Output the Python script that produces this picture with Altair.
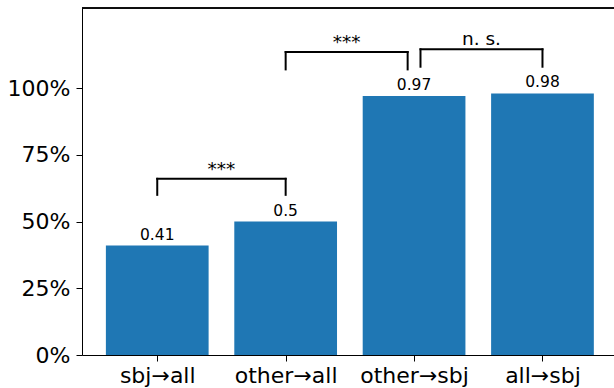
import json
import altair as alt
import pandas as pd

# ---- data ----
categories = ["sbj→all", "other→all", "other→sbj", "all→sbj"]
values = [0.41, 0.50, 0.97, 0.98]
value_labels = ["0.41", "0.5", "0.97", "0.98"]

bracket_left = [0, 1, 2.05]
bracket_right = [1, 1.95, 3]
bracket_top = [0.66, 1.135, 1.145]
bracket_bottom = [0.60, 1.07, 1.08]
bracket_labels = ["***", "***", "n. s."]

y_ticks = [0, 0.25, 0.5, 0.75, 1.0]

# ---- layout / style ----
W, H = 532, 347
BAR_W = 0.8
FONT = "DejaVu Sans"
BLUE = "#1f77b4"

idx = list(range(len(categories)))
bars = pd.DataFrame({
    "idx": idx,
    "x0": [i - BAR_W / 2 for i in idx],
    "x1": [i + BAR_W / 2 for i in idx],
    "base": [0.0] * len(idx),
    "value": values,
    "label": value_labels,
})

segs = []
for l, r, t, b in zip(bracket_left, bracket_right, bracket_top, bracket_bottom):
    segs.append({"xa": l, "xb": r, "ya": t, "yb": t})
    segs.append({"xa": l, "xb": l, "ya": b, "yb": t})
    segs.append({"xa": r, "xb": r, "ya": b, "yb": t})
segs = pd.DataFrame(segs)

ann = pd.DataFrame({
    "xm": [(l + r) / 2 for l, r in zip(bracket_left, bracket_right)],
    "y": bracket_top,
    "text": bracket_labels,
})

xscale = alt.Scale(domain=[-0.586, 3.557], nice=False, zero=False)
yscale = alt.Scale(domain=[0, 1.3], nice=False)

label_expr = json.dumps(categories) + "[datum.value]"

x_axis = alt.Axis(values=idx, labelExpr=label_expr, title=None, grid=False,
                  labelFontSize=22, labelFont=FONT, labelColor="black",
                  tickSize=6, tickColor="black", domainColor="black",
                  labelPadding=4)
y_axis = alt.Axis(values=y_ticks, format=".0%", title=None, grid=False,
                  labelFontSize=22, labelFont=FONT, labelColor="black",
                  tickSize=6, tickColor="black", domainColor="black",
                  labelPadding=6)

bar_layer = alt.Chart(bars).mark_bar(color=BLUE).encode(
    x=alt.X("x0:Q", scale=xscale, axis=x_axis),
    x2="x1:Q",
    y=alt.Y("value:Q", scale=yscale, axis=y_axis),
    y2="base:Q",
)

val_text = alt.Chart(bars).mark_text(
    font=FONT, fontSize=15.5, baseline="alphabetic", dy=-6, color="black"
).encode(
    x=alt.X("idx:Q", scale=xscale),
    y=alt.Y("value:Q", scale=yscale),
    text="label:N",
)

bracket_layer = alt.Chart(segs).mark_rule(
    color="black", strokeWidth=2, strokeCap="square"
).encode(
    x=alt.X("xa:Q", scale=xscale),
    x2="xb:Q",
    y=alt.Y("ya:Q", scale=yscale),
    y2="yb:Q",
)

ann_text = alt.Chart(ann).mark_text(
    font=FONT, fontSize=18.5, baseline="alphabetic", dy=-4, color="black"
).encode(
    x=alt.X("xm:Q", scale=xscale),
    y=alt.Y("y:Q", scale=yscale),
    text="text:N",
)

top_spine = alt.Chart(bars).mark_rule(color="black", strokeWidth=1).encode(
    x=alt.value(0), x2=alt.value(W), y=alt.value(0)
)

chart = alt.layer(bar_layer, val_text, bracket_layer, ann_text, top_spine).properties(
    width=W, height=H,
    autosize="none",
    padding={"left": 82, "top": 8, "right": 0, "bottom": 33},
).configure_view(stroke=None).configure(background="white")

chart.save("out.html", embed_options={"renderer": "svg", "actions": False})
